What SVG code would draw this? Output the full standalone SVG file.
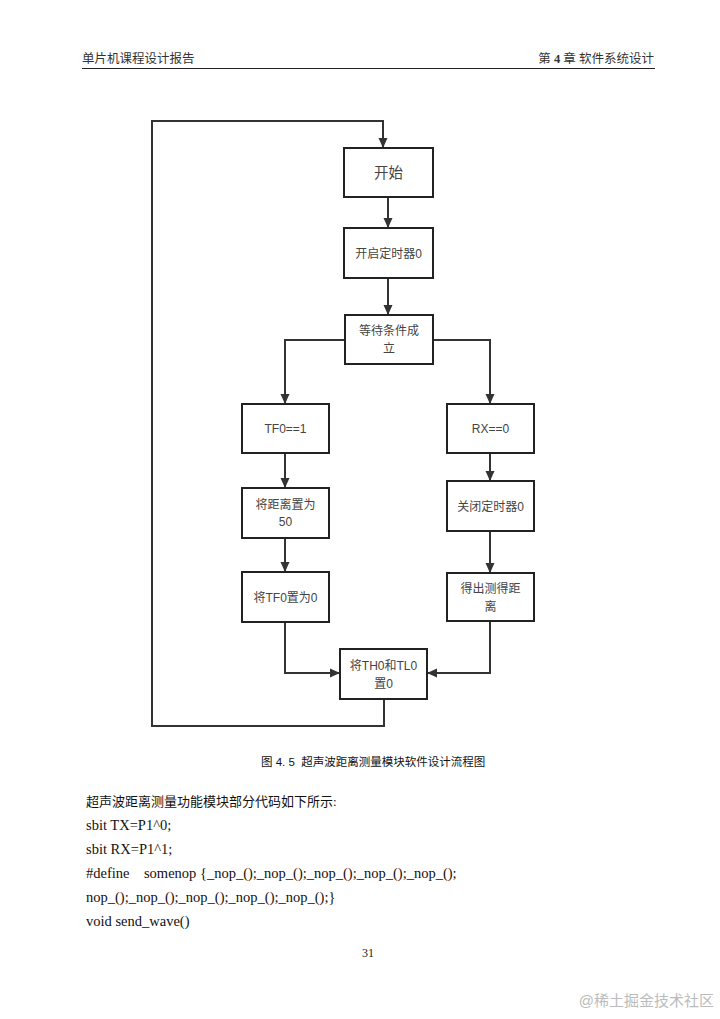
<svg xmlns="http://www.w3.org/2000/svg" width="720" height="1019" viewBox="0 0 720 1019">
<defs>
<marker id="ah" markerWidth="10" markerHeight="10" viewBox="0 0 10 10" refX="10" refY="5" orient="auto" markerUnits="userSpaceOnUse">
<path d="M0,0.5 L10,5 L0,9.5 Z" fill="#333"/>
</marker>
<style>
.box{fill:#fff;stroke:#222;stroke-width:2}
.nt{font-family:"Liberation Sans","Noto Sans CJK SC",sans-serif;font-size:12px;fill:#444;text-anchor:middle}
.cn{fill:none;stroke:#333;stroke-width:2}
.hd{font-family:"Liberation Serif","Noto Sans CJK SC",serif;font-size:12.5px;fill:#333}
.bd{font-family:"Liberation Serif","Noto Sans CJK SC",serif;font-size:14.5px;fill:#111}
</style>
</defs>
<rect width="720" height="1019" fill="#fff"/>
<g id="header">
<text class="hd" x="82" y="63">单片机课程设计报告</text>
<text class="hd" x="654" y="63" text-anchor="end">第 <tspan font-weight="bold">4</tspan> 章  软件系统设计</text>
<line x1="82" y1="68.5" x2="655" y2="68.5" stroke="#222" stroke-width="1.2"/>
</g>
<g id="connectors">
<path class="cn" d="M384 699 V726 H152 V121 H383 V148" marker-end="url(#ah)"/>
<path class="cn" d="M388 197 V228" marker-end="url(#ah)"/>
<path class="cn" d="M388 278 V315" marker-end="url(#ah)"/>
<path class="cn" d="M345 340 H285 V404" marker-end="url(#ah)"/>
<path class="cn" d="M433 340 H490 V404" marker-end="url(#ah)"/>
<path class="cn" d="M285 453 V488" marker-end="url(#ah)"/>
<path class="cn" d="M285 538 V572" marker-end="url(#ah)"/>
<path class="cn" d="M490 453 V481" marker-end="url(#ah)"/>
<path class="cn" d="M490 531 V573" marker-end="url(#ah)"/>
<path class="cn" d="M285 622 V673 H340" marker-end="url(#ah)"/>
<path class="cn" d="M490 621 V673 H427" marker-end="url(#ah)"/>
</g>
<g id="start">
<rect class="box" x="344" y="148" width="89" height="49"/>
<text class="nt" x="388.5" y="178" style="font-size:14.5px">开始</text>
</g>
<g id="timer-on">
<rect class="box" x="344" y="228" width="89" height="50"/>
<text class="nt" x="388.5" y="258">开启定时器0</text>
</g>
<g id="wait">
<rect class="box" x="345" y="315" width="88" height="49"/>
<text class="nt" x="389" y="335">等待条件成</text>
<text class="nt" x="389" y="353">立</text>
</g>
<g id="tf0">
<rect class="box" x="242" y="404" width="87" height="49"/>
<text class="nt" x="285.5" y="433">TF0==1</text>
</g>
<g id="rx">
<rect class="box" x="447" y="404" width="87" height="49"/>
<text class="nt" x="490.5" y="433">RX==0</text>
</g>
<g id="set50">
<rect class="box" x="242" y="488" width="87" height="50"/>
<text class="nt" x="285.5" y="509">将距离置为</text>
<text class="nt" x="285.5" y="526">50</text>
</g>
<g id="tf0zero">
<rect class="box" x="242" y="572" width="87" height="50"/>
<text class="nt" x="285.5" y="602">将TF0置为0</text>
</g>
<g id="timer-off">
<rect class="box" x="447" y="481" width="87" height="50"/>
<text class="nt" x="490.5" y="511">关闭定时器0</text>
</g>
<g id="distance">
<rect class="box" x="447" y="573" width="87" height="48"/>
<text class="nt" x="490.5" y="593">得出测得距</text>
<text class="nt" x="490.5" y="611">离</text>
</g>
<g id="th0tl0">
<rect class="box" x="340" y="649" width="87" height="50"/>
<text class="nt" x="383.5" y="670">将TH0和TL0</text>
<text class="nt" x="383.5" y="688">置0</text>
</g>
<g id="caption">
<text x="261" y="766" font-family="'Liberation Sans','Noto Sans CJK SC',sans-serif" font-size="11.5" fill="#111" xml:space="preserve">图 4. 5  超声波距离测量模块软件设计流程图</text>
</g>
<g id="body">
<text class="bd" x="86" y="806" style="font-size:13px">超声波距离测量功能模块部分代码如下所示:</text>
<text class="bd" x="86" y="830">sbit TX=P1^0;</text>
<text class="bd" x="86" y="854">sbit RX=P1^1;</text>
<text class="bd" x="86" y="878" xml:space="preserve">#define    somenop {_nop_();_nop_();_nop_();_nop_();_nop_();</text>
<text class="bd" x="86" y="902">nop_();_nop_();_nop_();_nop_();_nop_();}</text>
<text class="bd" x="86" y="926">void send_wave()</text>
</g>
<text x="368" y="957" font-family="'Liberation Serif',serif" font-size="12" fill="#222" text-anchor="middle">31</text>
<text x="714" y="1006" font-family="'Liberation Sans','Noto Sans CJK SC',sans-serif" font-size="15" fill="#bbb" text-anchor="end">@稀土掘金技术社区</text>
</svg>
